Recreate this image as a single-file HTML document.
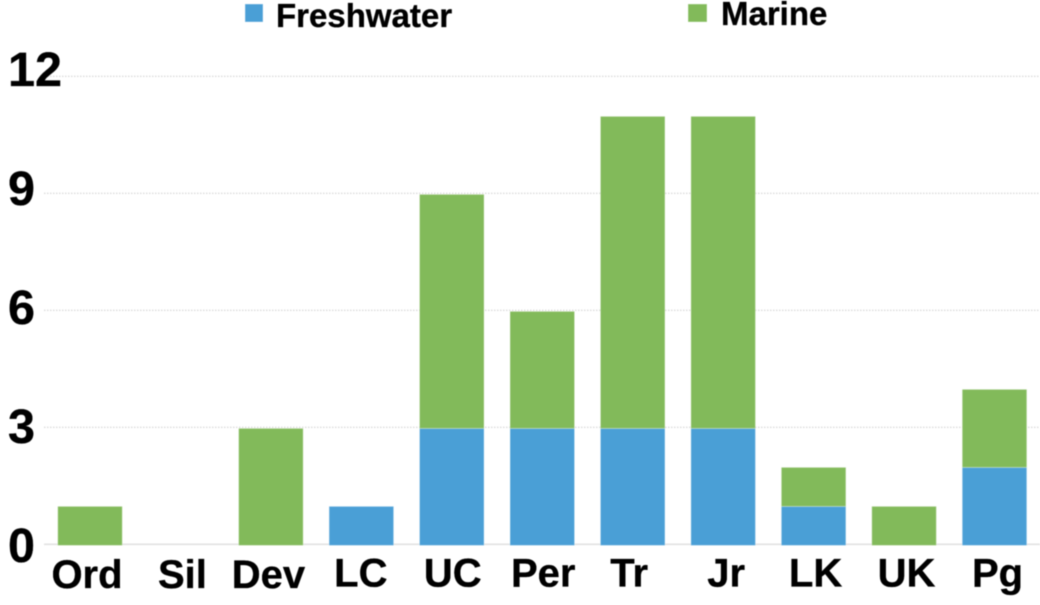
<!DOCTYPE html>
<html lang="en">
<head>
<meta charset="utf-8">
<title>Freshwater and marine counts by period</title>
<style>
  html, body { margin: 0; padding: 0; background: #fff; width: 1040px; height: 605px; overflow: hidden; }
  svg { display: block; filter: blur(0.45px); }
  text { font-family: "Liberation Sans", Arial, sans-serif; font-weight: 700; fill: #000; stroke: #000; stroke-width: 0.35px; }
</style>
</head>
<body>
<svg id="chart" width="1040" height="605" viewBox="0 0 1040 605" xmlns="http://www.w3.org/2000/svg">
  <g id="grid"></g>
  <g id="bars"></g>
  <g id="y-axis"></g>
  <g id="x-axis"></g>
  <g>
    <rect x="245" y="4" width="18" height="18" fill="#4a9fd6" stroke="#ffffff" stroke-opacity="0.35"></rect>
    <text x="276" y="27" font-size="33">Freshwater</text>
    <rect x="688" y="4" width="19" height="18" fill="#82ba5a" stroke="#ffffff" stroke-opacity="0.35"></rect>
    <text x="721" y="25" font-size="33">Marine</text>
  </g>
</svg>
<script>
const categories = ["Ord", "Sil", "Dev", "LC", "UC", "Per", "Tr", "Jr", "LK", "UK", "Pg"];
const freshwater = [0, 0, 0, 1, 3, 3, 3, 3, 1, 0, 2];
const marine = [1, 0, 3, 0, 6, 3, 8, 8, 1, 1, 2];
const yTicks = [0, 3, 6, 9, 12];

const NS = "http://www.w3.org/2000/svg";
const BLUE = "#4a9fd6";
const GREEN = "#82ba5a";
const BAR_WIDTH = 64.5;
const LABEL_NUDGE = { Ord: -3, Sil: 2, Dev: -2.5, LC: -0.5, UC: 1, Per: 1, Tr: -3.5, Jr: 3, LK: 2, UK: 2.5, Pg: 3 };

function x(i) { return 90 + i * 90.45; }
function y(v) { return 545.4 - v * 39; }
function yLabel(v) { return 562 - v * 39.67; }
function xLabelBaseline(i) { return i < 3 ? 588 : 586.5; }

function make(tag, attrs, parent) {
  const el = document.createElementNS(NS, tag);
  Object.keys(attrs).forEach(function (k) { el.setAttribute(k, attrs[k]); });
  parent.appendChild(el);
  return el;
}

const grid = document.getElementById("grid");
const barsG = document.getElementById("bars");
const yAxis = document.getElementById("y-axis");
const xAxis = document.getElementById("x-axis");

yTicks.forEach(function (t) {
  const line = make("line", { x1: 44, x2: 1040, y1: y(t) - 1.1, y2: y(t) - 1.1,
    stroke: t === 0 ? "#e2e2e2" : "#dcdcdc",
    "stroke-width": t === 0 ? 1.6 : 1.3,
    "stroke-dasharray": t === 0 ? "none" : "1.5 1.5" }, grid);
  
  

  const label = make("text", { x: 8, y: yLabel(t), "font-size": 48.5 }, yAxis);
  label.textContent = String(t);
  
  
});

categories.forEach(function (name, i) {
  const left = x(i) - BAR_WIDTH / 2;
  const f = freshwater[i];
  const m = marine[i];
  if (f > 0) {
    const fb = make("rect", { x: left, y: y(f), width: BAR_WIDTH, height: y(0) - y(f),
      fill: BLUE, stroke: "#ffffff", "stroke-opacity": 0.3, "stroke-width": 1 }, barsG);
    
    
  }
  if (m > 0) {
    const mb = make("rect", { x: left, y: y(f + m), width: BAR_WIDTH, height: y(f) - y(f + m),
      fill: GREEN, stroke: "#ffffff", "stroke-opacity": 0.3, "stroke-width": 1 }, barsG);
    
    
  }
  const label = make("text", { x: x(i) + (LABEL_NUDGE[name] || 0), y: xLabelBaseline(i),
    "font-size": 40, "text-anchor": "middle" }, xAxis);
  label.textContent = name;
  
  
});
</script>
</body>
</html>
